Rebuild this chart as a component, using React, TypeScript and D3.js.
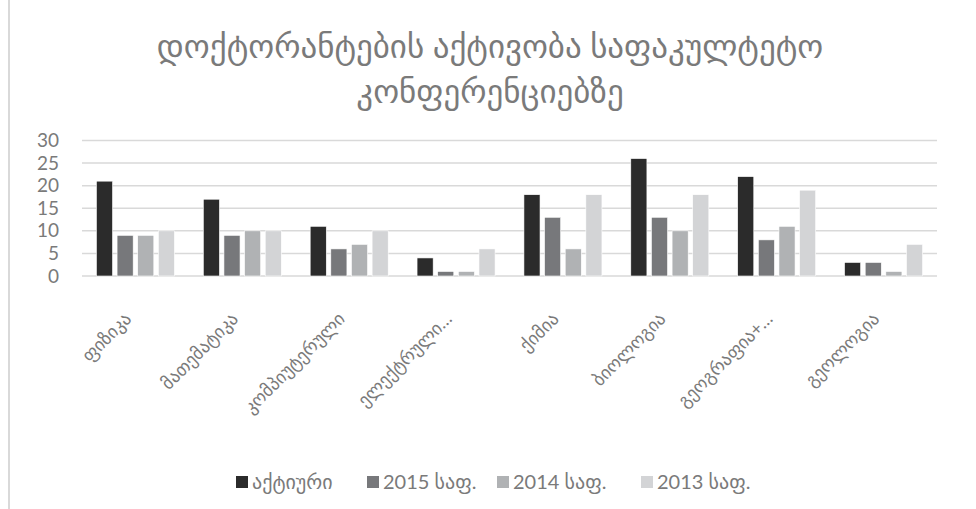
import React from "react";
import * as d3 from "d3";

const categories = ["ფიზიკა", "მათემატიკა", "კომპიუტერული", "ელექტრული…", "ქიმია", "ბიოლოგია", "გეოგრაფია+…", "გეოლოგია"];
const seriesNames = ["აქტიური", "2015 საფ.", "2014 საფ.", "2013 საფ."];
const activeValues = [21, 17, 11, 4, 18, 26, 22, 3];
const values2015 = [9, 9, 6, 1, 13, 13, 8, 3];
const values2014 = [9, 10, 7, 1, 6, 10, 11, 1];
const values2013 = [10, 10, 10, 6, 18, 18, 19, 7];
const yTicks = [0, 5, 10, 15, 20, 25, 30];
const titleLines = ["დოქტორანტების აქტივობა საფაკულტეტო", "კონფერენციებზე"];

const seriesValues = [activeValues, values2015, values2014, values2013];
const colors = ["#2b2b2b", "#77787b", "#b0b2b4", "#d3d4d6"];

const W = 976;
const H = 509;
const FONT = "Lato, 'DejaVu Sans', sans-serif";
const TEXT = "#7a7a7a";

export default function App() {
  const x0 = d3.scaleBand<string>().domain(categories).range([82, 937]).paddingInner(0.27).paddingOuter(0.135);
  const x1 = d3.scaleBand<string>().domain(seriesNames).range([0, x0.bandwidth()]).paddingInner(0.22).paddingOuter(0.0);
  const y = d3.scaleLinear().domain([0, 30]).range([276, 140.5]);

  const legendX = [236, 367, 497, 641];

  return (
    <div style={{ position: "absolute", left: 0, top: 0, width: W, height: H, background: "#fff" }}>
      <svg width={W} height={H} style={{ display: "block", fontFamily: FONT }}>
        <rect x={0} y={0} width={W} height={H} fill="#fff" />
        <line x1={9} x2={9} y1={0} y2={H} stroke="#d9d9d9" strokeWidth={2} />
        {titleLines.map((t, i) => (
          <text key={i} x={490} y={58 + i * 45} textAnchor="middle" fontSize={33} fill={TEXT}>
            {t}
          </text>
        ))}
        {yTicks.map((t) => (
          <g key={t}>
            <line x1={82} x2={937} y1={y(t)} y2={y(t)} stroke="#d9d9d9" strokeWidth={1.5} />
            <text x={59} y={y(t)} dy="0.35em" textAnchor="end" fontSize={19} fill={TEXT}>
              {t}
            </text>
          </g>
        ))}
        {categories.map((c, ci) => (
          <g key={c} transform={`translate(${x0(c)},0)`}>
            {seriesNames.map((s, si) => {
              const v = seriesValues[si][ci];
              return (
                <rect
                  key={s}
                  x={x1(s)}
                  y={y(v)}
                  width={x1.bandwidth()}
                  height={y(0) - y(v)}
                  fill={colors[si]}
                  stroke="#ffffff"
                  strokeWidth={0.6}
                />
              );
            })}
          </g>
        ))}
        {categories.map((c) => {
          const cx = (x0(c) as number) + x0.bandwidth() / 2 - 3;
          const cy = 320;
          return (
            <text key={c} x={cx} y={cy} transform={`rotate(-45 ${cx} ${cy})`} textAnchor="end" fontSize={18} fill={TEXT}>
              {c}
            </text>
          );
        })}
        {seriesNames.map((s, i) => (
          <g key={s}>
            <rect x={legendX[i]} y={476} width={12} height={12} fill={colors[i]} />
            <text x={legendX[i] + 16} y={482} dy="0.35em" fontSize={20} fill={TEXT}>
              {s}
            </text>
          </g>
        ))}
      </svg>
    </div>
  );
}
